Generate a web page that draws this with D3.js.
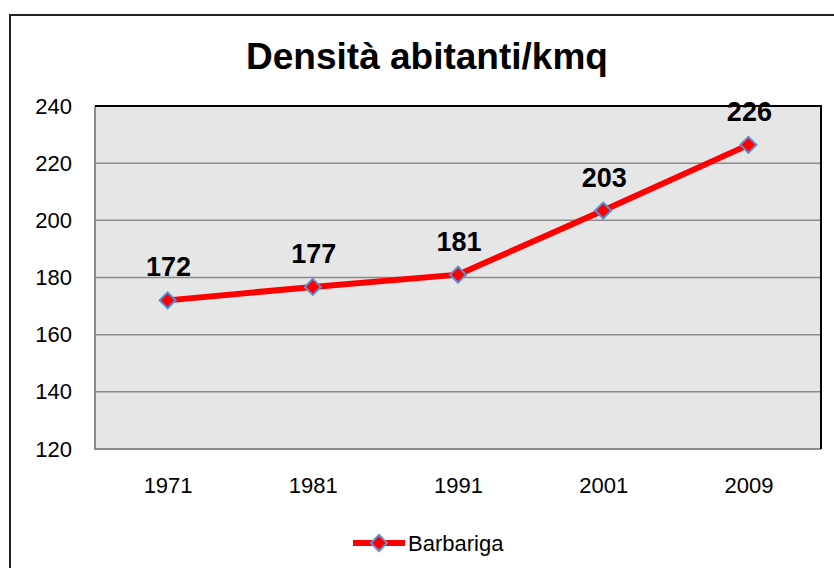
<!DOCTYPE html>
<html>
<head>
<meta charset="utf-8">
<script src="https://cdn.jsdelivr.net/npm/d3@7"></script>
<style>
  body { margin: 0; background: #fff; }
  text { font-family: "Liberation Sans", Arial, sans-serif; }
</style>
</head>
<body>
<script>
// dati
var years = ['1971', '1981', '1991', '2001', '2009'];
var density = [172, 176.7, 181, 203.4, 226.4];
var yTicks = [120, 140, 160, 180, 200, 220, 240];
var seriesName = 'Barbariga';
var title = 'Densità abitanti/kmq';

var W = 834, H = 568;
var plot = { left: 95, top: 106, right: 821, bottom: 449 };

var svg = d3.select('body')
  .append('svg')
    .attr('width', W)
    .attr('height', H);

// cornice esterna
svg.append('rect')
  .attr('x', 10).attr('y', 15)
  .attr('width', 900).attr('height', 700)
  .attr('fill', 'none')
  .attr('stroke', '#222')
  .attr('stroke-width', 2);

svg.append('text')
  .attr('x', 427).attr('y', 69)
  .attr('text-anchor', 'middle')
  .attr('font-size', 37)
  .attr('font-weight', 'bold')
  .text(title);

// scale
var x = d3.scalePoint()
  .domain(years)
  .range([plot.left, plot.right])
  .padding(0.5);

var y = d3.scaleLinear()
  .domain([120, 240])
  .range([plot.bottom, plot.top]);

// area del grafico
svg.append('rect')
  .attr('x', plot.left).attr('y', plot.top)
  .attr('width', plot.right - plot.left)
  .attr('height', plot.bottom - plot.top)
  .attr('fill', '#e6e6e6');

svg.append('g')
  .selectAll('line')
  .data(yTicks.slice(1, -1))
  .join('line')
    .attr('x1', plot.left).attr('x2', plot.right)
    .attr('y1', function(d) { return y(d); })
    .attr('y2', function(d) { return y(d); })
    .attr('stroke', '#8c8c8c')
    .attr('stroke-width', 1.5);

// bordi
svg.append('path')
  .attr('d', 'M' + plot.left + ',' + plot.top + 'V' + plot.bottom + 'H' + plot.right)
  .attr('fill', 'none')
  .attr('stroke', '#8c8c8c')
  .attr('stroke-width', 2);
svg.append('path')
  .attr('d', 'M' + plot.left + ',' + plot.top + 'H' + plot.right + 'V' + plot.bottom)
  .attr('fill', 'none')
  .attr('stroke', '#000')
  .attr('stroke-width', 2);

// assi
var yAxis = d3.axisLeft(y).tickValues(yTicks).tickSize(0).tickPadding(23);
var gy = svg.append('g')
  .attr('transform', 'translate(' + plot.left + ',0)')
  .call(yAxis);
gy.select('.domain').remove();
gy.selectAll('text')
  .attr('font-size', 22)
  .attr('fill', '#000')
  .attr('font-family', '"Liberation Sans", Arial, sans-serif');

var xAxis = d3.axisBottom(x).tickSize(0).tickPadding(28);
var gx = svg.append('g')
  .attr('transform', 'translate(0,' + plot.bottom + ')')
  .call(xAxis);
gx.select('.domain').remove();
gx.selectAll('text')
  .attr('font-size', 22)
  .attr('fill', '#000')
  .attr('font-family', '"Liberation Sans", Arial, sans-serif');

// linea
var pts = years.map(function(d, i) { return { year: d, value: density[i] }; });

svg.append('path')
  .datum(pts)
  .attr('d', d3.line()
    .x(function(d) { return x(d.year); })
    .y(function(d) { return y(d.value); }))
  .attr('fill', 'none')
  .attr('stroke', '#ff0000')
  .attr('stroke-width', 6);

var diamond = d3.symbol().type(d3.symbolSquare).size(128);

svg.append('g')
  .selectAll('path')
  .data(pts)
  .join('path')
    .attr('d', diamond)
    .attr('transform', function(d) {
      return 'translate(' + x(d.year) + ',' + y(d.value) + ') rotate(45)';
    })
    .attr('fill', '#ff0000')
    .attr('stroke', '#5b8fd0')
    .attr('stroke-width', 2);

svg.append('g')
  .selectAll('text')
  .data(pts)
  .join('text')
    .attr('x', function(d) { return x(d.year) + 1; })
    .attr('y', function(d) { return y(d.value) - 24; })
    .attr('text-anchor', 'middle')
    .attr('font-size', 27)
    .attr('font-weight', 'bold')
    .text(function(d) { return d3.format('.0f')(d.value); });

// legenda
var lg = svg.append('g').attr('transform', 'translate(353,543)');
lg.append('line')
  .attr('x1', 0).attr('x2', 52)
  .attr('stroke', '#ff0000')
  .attr('stroke-width', 6);
lg.append('path')
  .attr('d', diamond)
  .attr('transform', 'translate(26,0) rotate(45)')
  .attr('fill', '#ff0000')
  .attr('stroke', '#5b8fd0')
  .attr('stroke-width', 2);
lg.append('text')
  .attr('x', 55).attr('y', 8)
  .attr('font-size', 22)
  .text(seriesName);
</script>
</body>
</html>
